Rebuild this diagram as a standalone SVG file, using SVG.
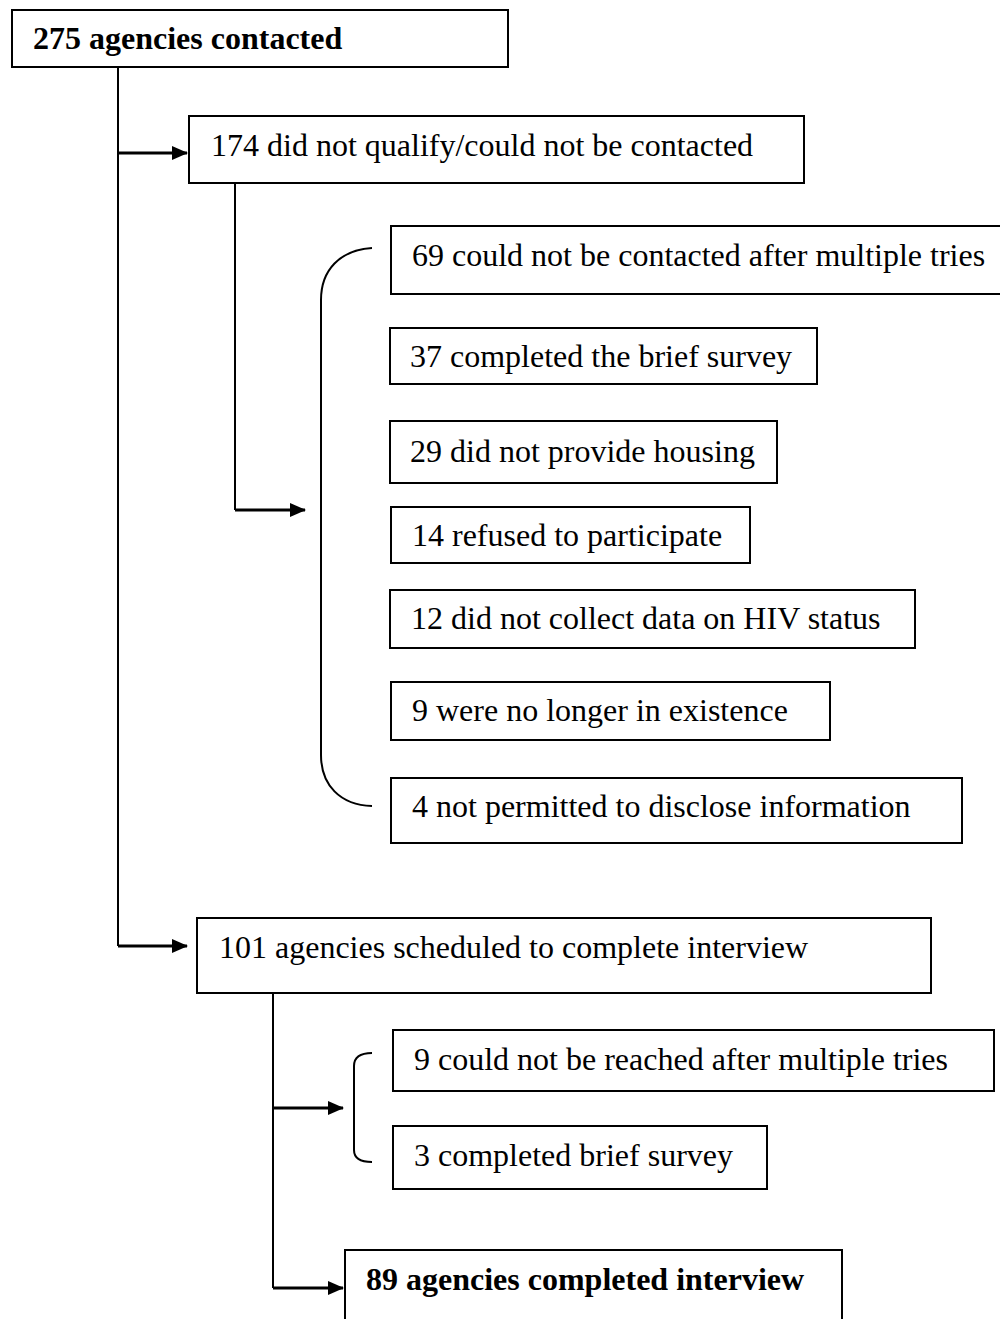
<svg xmlns="http://www.w3.org/2000/svg" width="1000" height="1319" viewBox="0 0 1000 1319">
<style>
.box{fill:#fff;stroke:#000;stroke-width:2}
.t{font-family:"Liberation Serif","Times New Roman",serif;font-size:32px;fill:#000}
.b{font-weight:bold}
.ln{fill:none;stroke:#000;stroke-width:2}
.ar{fill:none;stroke:#000;stroke-width:3}
</style>
<defs>
<marker id="ah" markerWidth="16" markerHeight="14" refX="15" refY="7" orient="auto" markerUnits="userSpaceOnUse">
<path d="M0,0 L16,7 L0,14 Z" fill="#000"/>
</marker>
</defs>
<rect width="1000" height="1319" fill="#fff"/>
<g id="connectors">
<path class="ln" d="M118,67 V946"/>
<path class="ar" d="M118,153 H187" marker-end="url(#ah)"/>
<path class="ln" d="M235,183 V510"/>
<path class="ar" d="M235,510 H305" marker-end="url(#ah)"/>
<path class="ar" d="M118,946 H187" marker-end="url(#ah)"/>
<path class="ln" d="M273,993 V1288"/>
<path class="ar" d="M273,1288 H343" marker-end="url(#ah)"/>
<path class="ar" d="M273,1108 H343" marker-end="url(#ah)"/>
<path class="ln" d="M372,248 C340,250 321,270 321,300 V755 C321,785 340,805 372,806"/>
<path class="ln" d="M372,1053 C360,1053 354,1058 354,1066 V1150 C354,1158 360,1162 372,1162"/>
</g>
<g id="n275"><rect class="box" x="12" y="10" width="496" height="57"/><text class="t b" x="33" y="49">275 agencies contacted</text></g>
<g id="n174"><rect class="box" x="189" y="116" width="615" height="67"/><text class="t" x="211" y="156">174 did not qualify/could not be contacted</text></g>
<g id="n69"><rect class="box" x="391" y="226" width="611" height="68"/><text class="t" x="412" y="266">69 could not be contacted after multiple tries</text></g>
<g id="n37"><rect class="box" x="390" y="328" width="427" height="56"/><text class="t" x="410" y="367">37 completed the brief survey</text></g>
<g id="n29"><rect class="box" x="390" y="421" width="387" height="62"/><text class="t" x="410" y="462">29 did not provide housing</text></g>
<g id="n14"><rect class="box" x="391" y="507" width="359" height="56"/><text class="t" x="412" y="546">14 refused to participate</text></g>
<g id="n12"><rect class="box" x="390" y="590" width="525" height="58"/><text class="t" x="411" y="629">12 did not collect data on HIV status</text></g>
<g id="n9e"><rect class="box" x="391" y="682" width="439" height="58"/><text class="t" x="412" y="721">9 were no longer in existence</text></g>
<g id="n4"><rect class="box" x="391" y="778" width="571" height="65"/><text class="t" x="412" y="817">4 not permitted to disclose information</text></g>
<g id="n101"><rect class="box" x="197" y="918" width="734" height="75"/><text class="t" x="219" y="958">101 agencies scheduled to complete interview</text></g>
<g id="n9r"><rect class="box" x="393" y="1030" width="601" height="61"/><text class="t" x="414" y="1070">9 could not be reached after multiple tries</text></g>
<g id="n3"><rect class="box" x="393" y="1126" width="374" height="63"/><text class="t" x="414" y="1166">3 completed brief survey</text></g>
<g id="n89"><rect class="box" x="345" y="1250" width="497" height="100"/><text class="t b" x="366" y="1290">89 agencies completed interview</text></g>
</svg>
